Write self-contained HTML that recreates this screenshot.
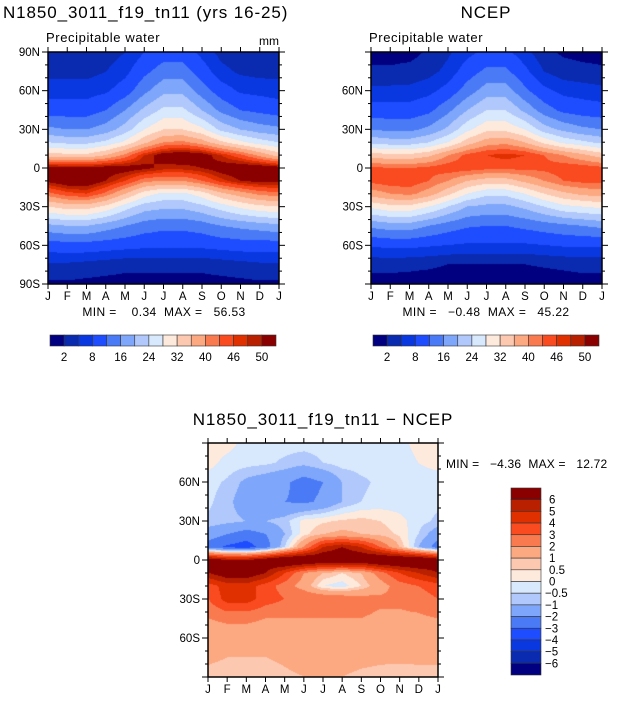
<!DOCTYPE html>
<html><head><meta charset="utf-8">
<style>
body{margin:0;background:#fff;width:630px;height:704px;overflow:hidden;position:relative;font-family:"Liberation Sans",sans-serif}
canvas{position:absolute}
svg{position:absolute;left:0;top:0}
svg text{white-space:pre}
</style></head>
<body>
<canvas id="c1" style="left:48px;top:52px" width="231" height="232"></canvas>
<canvas id="c2" style="left:371px;top:52px" width="231" height="232"></canvas>
<canvas id="c3" style="left:208px;top:443px" width="230" height="234"></canvas>
<svg id="ov" width="630" height="704" font-family="Liberation Sans, sans-serif"></svg>
<script>
const months=["J","F","M","A","M","J","J","A","S","O","N","D","J"];
const lats=[90,75,60,45,30,20,10,0,-10,-20,-30,-45,-60,-75,-90];
const colors=["#000080","#0a2bb0","#0a38e0","#1e4cff","#4a7af5","#7ea6fa","#b0c8fb","#d8e8fd","#feeadc","#fdc8b0","#fca880","#fa7a50","#f94a20","#e03000","#b82000","#8a0000"];
const levelsPW=[2,5,8,12,16,20,24,28,32,36,40,43,46,48,50];
const levelLabelsPW=["2","8","16","24","32","40","46","50"];
const levelsDiff=[-6,-5,-4,-3,-2,-1,-0.5,0,0.5,1,2,3,4,5,6];
const levelLabelsDiff=["-6","-5","-4","-3","-2","-1","-0.5","0","0.5","1","2","3","4","5","6"];
const modelPW=[
[3,3,3,3.5,5,8,10,10,7,4,3,3,3],
[4,4,4,5,7,11,14,14,10,6,4.5,4,4],
[6.5,6.5,6.5,7.5,10,15,19,19,14,10,7.5,7,6.5],
[10,10,10,12,16,21,25,25,20,15,12,11,10],
[17,16,16,18,22,28,32,32,29,23,20,18,17],
[24,23,23,25,29,35,40,41,38,33,29,26,24],
[34,33,33,36,41,48,52,53,52,48,44,39,34],
[52,51,51,52,52,51,49,49,50,52,53,53,52],
[51,53,53,50,46,41,40,40,43,47,50,51,51],
[42,45,46,42,36,30,27,27,30,35,38,41,42],
[32,34,34,31,26,22,21,21,23,26,29,31,32],
[19,20,20,18,16,14,13,13,14,16,17,18,19],
[10,10.5,10.5,10,9.5,9,9,9,9,9.5,10,10,10],
[4.5,4.5,4,3.5,3,3,3,3,3,3.5,4,4.5,4.5],
[1.5,1.5,1.2,1,0.8,0.8,0.8,0.8,0.8,1,1.2,1.5,1.5]];
const ncepPW=[
[1,1,1,2.5,4.5,7,9,9,6,3,1.5,1,1],
[2.5,2.5,3,4,6,10,13,13,9,5,3.5,3,2.5],
[6,6,6,7,9.5,14,18,18,13,9,7,6.5,6],
[9.5,9.5,9.5,11,15,20,24,24,19,14,11,10,9.5],
[16,15,15,17,21,27,31,31,28,22,19,17,16],
[23,22,22,24,28,34,38,39,36,31,27,25,23],
[34,33,33,35,40,44,46,47,46,43,40,37,34],
[44,43,43,44,45,45,44,44,44,44,45,45,44],
[44,45,45,43,40,36,34,34,37,40,43,44,44],
[38,40,41,38,33,28,25,25,28,32,35,37,38],
[29,31,31,28,24,20,19,19,21,24,27,28,29],
[17,18,18,16,14,12.5,12,12,13,14,15,16,17],
[8.5,9,9,8.5,8,7.5,7.5,7.5,7.5,8,8.5,8.5,8.5],
[3,3,2.8,2.5,2,2,2,2,2,2.3,2.6,3,3],
[0.8,0.8,0.7,0.6,0.5,0.5,0.5,0.5,0.5,0.6,0.7,0.8,0.8]];
const diffPW=[
[0.3,0.2,-0.2,-0.3,-0.3,-0.3,-0.3,-0.2,-0.2,-0.3,-0.2,0.2,0.3],
[0.2,-0.2,-0.3,-0.4,-0.6,-0.8,-0.5,-0.3,-0.3,-0.4,-0.3,0,0.2],
[-0.3,-0.6,-1.2,-1.5,-1.8,-2.5,-2,-1,-0.6,-0.4,-0.4,-0.3,-0.3],
[-0.4,-0.8,-1.5,-1.8,-2,-2.2,-1.8,-1,-0.5,-0.3,-0.3,-0.3,-0.4],
[-0.6,-0.8,-1,-1,-0.7,0.2,0.4,0.6,0.7,0.5,0.2,-0.3,-0.6],
[-1.5,-2,-2.5,-2,-1,0.3,1,1.2,1,0.8,0.4,-0.5,-1.5],
[-2.5,-3.2,-3.5,-2.5,-0.5,2,5,6,5,3,1,-1,-2.5],
[7,6,6,7,8,8,7.5,7.5,7.5,8,8,8,7],
[6,7,7,6,4,2,1,0.5,1,2.5,4,5,6],
[3.5,4.5,4.5,3.5,2.5,1.5,0,-0.3,0.5,1.5,2.5,3,3.5],
[3,4.5,4.5,3.5,3,3,3,2.8,2.5,2.2,2.2,2.5,3],
[2,2.2,2.2,2,2,2,2,2,2,1.8,1.8,1.8,2],
[1.5,1.5,1.5,1.5,1.5,1.5,1.5,1.5,1.5,1.5,1.5,1.5,1.5],
[1.2,1,1,1,1.2,1.5,1.5,1.5,1.3,1.2,1.2,1.2,1.2],
[0.7,0.6,0.5,0.5,0.8,1,1,1,0.8,0.7,0.6,0.7,0.7]];

function sample(grid,m,lat){
  const mi=Math.min(Math.floor(m),11),fm=m-mi;
  let li=0;while(li<lats.length-2&&lat<lats[li+1])li++;
  const fl=(lats[li]-lat)/(lats[li]-lats[li+1]);
  const a=grid[li][mi]*(1-fm)+grid[li][mi+1]*fm;
  const b=grid[li+1][mi]*(1-fm)+grid[li+1][mi+1]*fm;
  return a*(1-fl)+b*fl;
}
function hex(c){return [parseInt(c.slice(1,3),16),parseInt(c.slice(3,5),16),parseInt(c.slice(5,7),16)];}
const rgb=colors.map(hex);
function drawField(id,grid,levels){
  const cv=document.getElementById(id),ctx=cv.getContext('2d');
  const W=cv.width,H=cv.height,img=ctx.createImageData(W,H);
  for(let y=0;y<H;y++)for(let x=0;x<W;x++){
    const m=x/(W-1)*12,lat=90-y/(H-1)*180;
    const v=sample(grid,m,lat);
    let k=0;while(k<levels.length&&v>=levels[k])k++;
    const c=rgb[k],p=(y*W+x)*4;
    img.data[p]=c[0];img.data[p+1]=c[1];img.data[p+2]=c[2];img.data[p+3]=255;
  }
  ctx.putImageData(img,0,0);
}
drawField('c1',modelPW,levelsPW);
drawField('c2',ncepPW,levelsPW);
drawField('c3',diffPW,levelsDiff);

const ov=document.getElementById('ov');
const NS="http://www.w3.org/2000/svg";
function el(tag,attrs,txt){const e=document.createElementNS(NS,tag);for(const k in attrs)e.setAttribute(k,attrs[k]);if(txt!==undefined)e.textContent=txt;ov.appendChild(e);return e;}
function axes(x0,x1,y0,y1,ylabels,pfx){
  const fr=el('rect',{x:x0,y:y0,width:x1-x0,height:y1-y0,fill:'none',stroke:'#000','stroke-width':1.5});
  
  
  const sx=m=>x0+(x1-x0)*m/12, sy=l=>y0+(y1-y0)*(90-l)/180;
  for(let i=0;i<13;i++){
    const x=sx(i);
    el('line',{x1:x,x2:x,y1:y0,y2:y0-5,stroke:'#000'});
    el('line',{x1:x,x2:x,y1:y1,y2:y1+5,stroke:'#000'});
    const t=el('text',{x:x,y:y1+16,'font-size':11.5,'text-anchor':'middle'},months[i]);
    
    
  }
  for(let l=-90;l<=90;l+=10){
    const y=sy(l),len=(l%30===0)?6:3;
    el('line',{x1:x0,x2:x0-len,y1:y,y2:y,stroke:'#000'});
    el('line',{x1:x1,x2:x1+len,y1:y,y2:y,stroke:'#000'});
  }
  ylabels.forEach(l=>{
    const s=l===0?'0':(Math.abs(l)+(l>0?'N':'S'));
    const t=el('text',{x:x0-8,y:sy(l)+4,'font-size':11.5,'text-anchor':'end'},s);
    
    
  });
}
axes(48,279,52,284,[90,60,30,0,-30,-60,-90],'model');
axes(371,602,52,284,[60,30,0,-30,-60],'ncep');
axes(208,438,443,677,[60,30,0,-30,-60],'diff');

function txt(x,y,s,size,anchor,name,ls){const t=el('text',{x:x,y:y,'font-size':size,'text-anchor':anchor||'start','letter-spacing':ls||0},s);return t;}
txt(3,18,'N1850_3011_f19_tn11 (yrs 16-25)',17,'start','model-title',0.9);
txt(46,42,'Precipitable water',13,'start','model-subtitle',0.6);
txt(279,45,'mm',12,'end','units-label');
txt(164,316,'MIN =    0.34  MAX =   56.53',12,'middle','model-min-max',0.4);
txt(486,18,'NCEP',17,'middle','ncep-title',0.9);
txt(369,42,'Precipitable water',13,'start','ncep-subtitle',0.6);
txt(486,316,'MIN =   −0.48  MAX =   45.22',12,'middle','ncep-min-max',0.4);
txt(323,425,'N1850_3011_f19_tn11 − NCEP',17,'middle','diff-title',0.9);
txt(446,468,'MIN =   −4.36  MAX =   12.72',12,'start','diff-min-max',0.2);

function hbar(x0,x1,y0,h,pfx){
  const w=(x1-x0)/16;
  colors.forEach((c,i)=>{
    const r=el('rect',{x:x0+i*w,y:y0,width:w,height:h,fill:c,stroke:'#333','stroke-width':0.6});
    
    
  });
  levelLabelsPW.forEach((s,i)=>{
    txt(x0+(2*i+1)*w,y0+h+15,s,11.5,'middle',pfx+'-colorbar-label');
  });
}
hbar(50,276,335,11,'model');
hbar(373,599,335,11,'ncep');
(function(){
  const x0=511,y0=488,h=(675-488)/16;
  for(let i=0;i<16;i++){
    const r=el('rect',{x:x0,y:y0+i*h,width:30,height:h,fill:colors[15-i],stroke:'#333','stroke-width':0.6});
    
    
  }
  for(let i=0;i<15;i++){
    const s=levelLabelsDiff[14-i].replace('-','−');
    txt(s.startsWith('−')?545:549,y0+(i+1)*h+4,s,11.5,'start','diff-colorbar-label');
  }
})();
</script>
</body></html>
